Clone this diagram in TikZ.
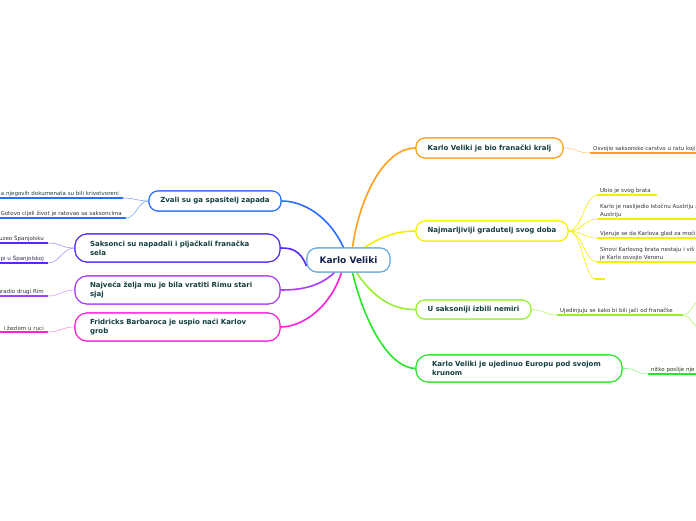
\documentclass[tikz,border=0pt]{standalone}
\usepackage{fontspec}
\setmainfont{DejaVu Sans}
\begin{document}
\begin{tikzpicture}[x=1pt,y=-1pt,
  box/.style={draw, fill=white, line width=1.1pt, rounded corners=9pt, inner ysep=0pt,
    font=\fontsize{7}{9}\selectfont\bfseries, text=maintext},
  onebox/.style={box, minimum height=20pt, inner xsep=0pt},
  twobox/.style={box, minimum height=28pt, inner xsep=15pt, align=left, rounded corners=12pt},
  cbox/.style={draw=cborder, fill=white, line width=1.1pt, rounded corners=10pt, minimum width=83pt,
    minimum height=24pt, font=\fontsize{9}{11}\selectfont\bfseries, text=ctext},
  leafR/.style={anchor=south west, inner xsep=3pt, inner ysep=1.5pt, text width=#1, align=left,
    font=\fontsize{5.5}{7.5}\selectfont, text=leaftext},
  leafL/.style={anchor=south east, inner xsep=4pt, inner ysep=1.5pt, text width=#1, align=right,
    font=\fontsize{5.5}{7.5}\selectfont, text=leaftext},
  uline/.style={line width=1.2pt},
  trunk/.style={line width=1.6pt},
  twig/.style={line width=0.6pt},
]
\definecolor{maintext}{RGB}{20,62,62}
\definecolor{leaftext}{RGB}{50,50,50}
\definecolor{ctext}{RGB}{20,35,75}
\definecolor{cborder}{RGB}{110,170,220}
\definecolor{corange}{RGB}{255,160,30}
\definecolor{cyellow}{RGB}{245,240,0}
\definecolor{cchart}{RGB}{150,240,50}
\definecolor{cgreen}{RGB}{40,230,40}
\definecolor{cblue}{RGB}{40,110,255}
\definecolor{cpblue}{RGB}{85,40,255}
\definecolor{cpurple}{RGB}{170,60,255}
\definecolor{cmagenta}{RGB}{255,30,220}

\useasboundingbox (0,0) rectangle (696,520);
\clip (0,0) rectangle (696,520);

% ---------- nodes (placed first to have names) ----------
\node[cbox] (c) at (348.5,260) {Karlo Veliki};
\node[onebox, draw=corange, minimum width=147pt] (r1) at (489.5,148) {Karlo Veliki je bio franački kralj};
\node[onebox, draw=cyellow, minimum width=152pt] (r2) at (492,231) {Najmarljiviji gradutelj svog doba};
\node[onebox, draw=cchart, minimum width=115pt, minimum height=19pt] (r3) at (473.5,309.5) {U saksoniji izbili nemiri};
\node[twobox, draw=cgreen, inner xsep=16pt, text width=174pt, minimum height=27pt] (r4) at (519,368.5) {Karlo Veliki je ujedinuo Europu pod svojom\\krunom};
\node[onebox, draw=cblue, minimum width=132pt] (l1) at (215,201) {Zvali su ga spasitelj zapada};
\node[twobox, draw=cpblue, text width=175pt] (l2) at (177.5,248) {Saksonci su napadali i pljačkali franačka\\sela};
\node[twobox, draw=cpurple, text width=175pt] (l3) at (177.5,290) {Najveća želja mu je bila vratiti Rimu stari\\sjaj};
\node[twobox, draw=cmagenta, text width=175pt] (l4) at (177.5,327) {Fridricks Barbaroca je uspio naći Karlov\\grob};

% ---------- trunk connectors ----------
\draw[trunk, corange] ([xshift=4pt]c.north) .. controls (360,195) and (385,148) .. (r1.west);
\draw[trunk, cyellow] ([xshift=16pt]c.north) .. controls (382,236) and (398,231) .. (r2.west);
\draw[trunk, cchart] ([xshift=8pt]c.south) .. controls (375,300) and (395,310) .. (r3.west);
\draw[trunk, cgreen] ([xshift=4pt]c.south) .. controls (365,325) and (390,368) .. (r4.west);
\draw[trunk, cblue] ([xshift=-5pt]c.north) .. controls (330,218) and (305,201) .. (l1.east);
\draw[trunk, cpblue] ([yshift=-6pt]c.west) .. controls (300,249) and (290,248) .. (l2.east);
\draw[trunk, cpurple] ([xshift=-14pt]c.south) .. controls (318,288) and (298,290) .. (l3.east);
\draw[trunk, cmagenta] ([xshift=-7pt]c.south) .. controls (330,308) and (302,327) .. (l4.east);

% ---------- redraw nodes on top of connectors ----------
\node[cbox] at (348.5,260) {Karlo Veliki};
\node[onebox, draw=corange, minimum width=147pt] at (489.5,148) {Karlo Veliki je bio franački kralj};
\node[onebox, draw=cyellow, minimum width=152pt] at (492,231) {Najmarljiviji gradutelj svog doba};
\node[onebox, draw=cchart, minimum width=115pt, minimum height=19pt] at (473.5,309.5) {U saksoniji izbili nemiri};
\node[twobox, draw=cgreen, inner xsep=16pt, text width=174pt, minimum height=27pt] at (519,368.5) {Karlo Veliki je ujedinuo Europu pod svojom\\krunom};
\node[onebox, draw=cblue, minimum width=132pt] at (215,201) {Zvali su ga spasitelj zapada};
\node[twobox, draw=cpblue, text width=175pt] at (177.5,248) {Saksonci su napadali i pljačkali franačka\\sela};
\node[twobox, draw=cpurple, text width=175pt] at (177.5,290) {Najveća želja mu je bila vratiti Rimu stari\\sjaj};
\node[twobox, draw=cmagenta, text width=175pt] at (177.5,327) {Fridricks Barbaroca je uspio naći Karlov\\grob};

% ---------- right leaves ----------
\node[leafR=200pt] (o1) at (590,153) {Osvojio saksonsko carstvo u ratu koji};
\draw[uline, corange] (o1.south west) -- (o1.south east);
\draw[twig, corange!55] (r1.east) .. controls (578,148) and (576,153) .. (o1.south west);

\node[leafR=54pt] (y1) at (597,195) {Ubio je svog brata};
\node[leafR=200pt] (y2) at (597,219) {Karlo je naslijedio Istočnu Austriju a\\Austriju};
\node[leafR=200pt] (y3) at (597,238) {Vjeruje se da Karlova glad za moći};
\node[leafR=200pt] (y4) at (597,262) {Sinovi Karlovog brata nestaju i viš\\je Karlo osvojio Veronu};
\node[leafR=4pt, inner xsep=3pt] (y5) at (595,279) {};
\foreach \n in {y1,y2,y3,y4,y5}{
  \draw[uline, cyellow] (\n.south west) -- (\n.south east);
  \draw[twig, cyellow] (r2.east) .. controls (582,231) and (585,0|-\n.south west) .. (\n.south west);
}

\node[leafR=120pt] (g1) at (557,315) {Ujedinjuju se kako bi bili jači od franačke};
\draw[uline, cchart] (g1.south west) -- (g1.south east);
\draw[twig, cchart!70] (r3.east) .. controls (545,310) and (545,315) .. (g1.south west);
\coordinate (gA) at (700,301);
\coordinate (gB) at (700,328);
\draw[twig, cchart!70] (g1.south east) .. controls (690,315) and (692,303) .. (gA);
\draw[twig, cchart!70] (g1.south east) .. controls (690,315) and (692,326) .. (gB);

\node[leafR=100pt] (n1) at (648,374) {nitko poslije nje};
\draw[uline, cgreen] (n1.south west) -- (n1.south east);
\draw[twig, cgreen!50] (r4.east) .. controls (638,368) and (636,374) .. (n1.south west);

% ---------- left leaves ----------
\node[leafL=220pt] (b1) at (123,198) {a njegovih dokumenata su bili krivotvoreni};
\node[leafL=220pt] (b2) at (126,218) {Gotovo cijeli život je ratovao sa saksoncima};
\draw[uline, cblue] (b1.south west) -- (b1.south east);
\draw[uline, cblue] (b2.south west) -- (b2.south east);
\draw[twig, cblue!60] (l1.west) .. controls (138,201) and (134,198) .. (b1.south east);
\draw[twig, cblue!60] (l1.west) .. controls (138,201) and (136,218) .. (b2.south east);

\node[leafL=150pt] (p1) at (48,243) {uzeo Španjolsku};
\node[leafL=150pt] (p2) at (48,263) {pi u Španjolskoj};
\draw[uline, cpblue] (p1.south west) -- (p1.south east);
\draw[uline, cpblue] (p2.south west) -- (p2.south east);
\draw[twig, cpblue!50] (l2.west) .. controls (62,248) and (60,243) .. (p1.south east);
\draw[twig, cpblue!50] (l2.west) .. controls (62,248) and (60,263) .. (p2.south east);

\node[leafL=150pt] (q1) at (48,296) {gradio drugi Rim};
\draw[uline, cpurple] (q1.south west) -- (q1.south east);
\draw[twig, cpurple!50] (l3.west) .. controls (62,290) and (60,296) .. (q1.south east);

\node[leafL=150pt] (m1) at (48,332) {i žezlom u ruci};
\draw[uline, cmagenta] (m1.south west) -- (m1.south east);
\draw[twig, cmagenta!50] (l4.west) .. controls (62,327) and (60,332) .. (m1.south east);
\end{tikzpicture}
\end{document}
